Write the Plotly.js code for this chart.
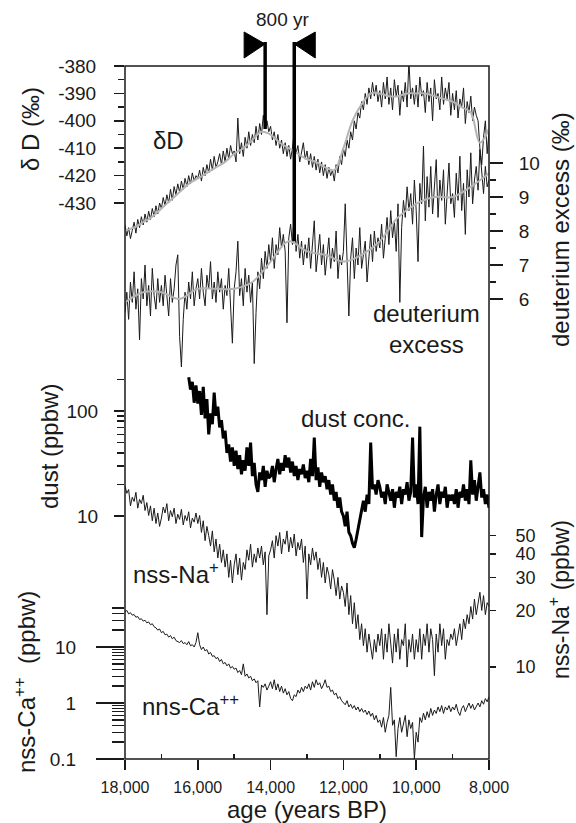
<!DOCTYPE html>
<html>
<head>
<meta charset="utf-8">
<script src="https://cdn.plot.ly/plotly-3.0.1.min.js"></script>
<style>html,body{margin:0;padding:0;background:#fff}#chart{width:576px;height:823px}</style>
</head>
<body>
<div id="chart"></div>
<script>
// ---------------- DATA ----------------
// sampling grid: ages in years BP, 50-yr step, oldest first
const AGE_STEP = 50;
const deltaDStart = 18000;   // first age of dD, deut. excess, Na, Ca series
const dustStart = 16250;     // first age of dust series

// dD (permil), 18000 -> 8000 BP
const deltaD = [
  -438,-442,-439,-443,-440,-437,-441,-436,-439,-435,-438,-434,-437,-433,-436,-432,-435,-431,-434,-430,
  -432,-428,-431,-427,-430,-425,-429,-424,-427,-423,-426,-422,-425,-421,-424,-420,-423,-419,-422,-420,
  -421,-418,-422,-417,-420,-416,-419,-414,-418,-413,-417,-415,-412,-416,-411,-415,-410,-414,-409,-412,
  -411,-415,-399,-412,-408,-413,-406,-410,-404,-409,-405,-408,-402,-407,-401,-405,-398,-403,-400,-404,
  -402,-407,-404,-409,-405,-410,-407,-412,-408,-413,-409,-414,-410,-404,-412,-409,-415,-411,-408,-414,
  -411,-416,-412,-417,-413,-418,-414,-419,-415,-420,-416,-421,-417,-420,-418,-422,-416,-419,-413,-416,
  -410,-413,-407,-410,-404,-407,-400,-403,-397,-399,-393,-396,-390,-394,-388,-392,-386,-391,-387,-393,
  -389,-395,-386,-392,-384,-394,-388,-396,-385,-391,-387,-398,-389,-393,-386,-395,-378,-392,-388,-394,
  -387,-395,-384,-391,-389,-397,-386,-393,-388,-400,-385,-392,-390,-396,-384,-394,-388,-392,-386,-398,
  -390,-396,-389,-399,-392,-395,-388,-401,-393,-397,-391,-400,-395,-398,-400,-410,-416,-406,-400,-412,-404
];
// smoothed dD (grey curve), 250-yr step
const deltaDSmoothAge = [18000,17750,17500,17250,17000,16750,16500,16250,16000,15750,15500,15250,15000,14750,14500,14250,14000,13750,13500,13250,13000,12750,12500,12250,12000,11750,11500,11250,11000,10750,10500,10250,10000,9750,9500,9250,9000,8750,8500,8250,8000];
const deltaDSmooth = [-440,-439,-437,-435,-432,-429,-426,-423,-421,-419,-417,-415,-412,-410,-407,-404,-405,-408,-410,-412,-414,-415,-417,-418,-410,-400,-394,-390,-390,-391,-391,-390,-390,-390,-391,-392,-393,-395,-397,-408,-403];

// deuterium excess (permil), 18000 -> 8000 BP
const deutExcess = [
  5.6,6.2,5.4,6.5,5.9,6.8,5.7,6.3,4.8,6.6,6.0,7.0,5.8,6.4,5.5,6.9,6.1,5.7,6.6,5.9,
  6.4,5.8,6.7,6.0,5.5,6.6,5.9,6.3,7.0,7.3,4.9,4.0,5.4,6.2,5.7,6.5,6.0,6.8,5.8,6.3,
  6.6,6.0,6.9,6.2,5.8,6.7,6.3,7.1,6.0,6.5,5.9,6.8,6.2,6.6,5.7,6.4,6.1,6.9,5.6,4.7,
  6.3,6.8,7.7,6.1,6.6,5.8,6.9,6.2,6.7,5.9,6.5,4.1,5.6,6.8,6.3,7.2,6.6,7.4,6.9,7.6,
  7.1,7.8,6.9,7.6,7.3,8.1,7.5,7.9,7.4,5.3,7.8,8.2,7.6,8.5,7.4,7.9,7.2,7.7,7.0,7.6,
  7.2,7.8,6.9,7.5,8.3,6.8,7.4,7.9,7.0,7.6,6.7,7.3,7.8,6.9,7.5,7.1,8.0,6.6,7.3,7.0,
  7.4,8.8,6.8,5.5,7.2,7.8,6.6,7.5,7.0,8.1,6.9,7.4,7.7,6.5,7.3,7.9,7.1,8.0,7.4,7.8,
  7.5,8.2,7.2,7.9,8.4,7.6,8.6,7.8,8.3,7.4,8.8,5.9,8.1,8.9,8.4,9.3,8.6,9.1,8.2,9.5,
  8.6,7.1,9.4,8.8,10.5,8.3,9.6,8.7,9.9,8.5,9.2,10.1,8.4,9.5,8.9,9.8,8.2,9.3,10.0,8.8,
  9.1,8.4,9.7,8.9,10.2,8.6,9.4,7.9,9.8,9.0,10.3,8.8,9.5,9.9,9.2,10.4,9.6,9.1,9.9,9.3,9.5
];
// smoothed deuterium excess (grey curve), 500-yr step
const deutSmoothAge = [18000,17500,17000,16500,16000,15500,15000,14500,14000,13500,13000,12500,12000,11500,11000,10500,10000,9500,9000,8500,8000];
const deutSmooth = [5.9,6.2,6.2,6.0,6.3,6.3,6.3,6.5,7.1,7.7,7.4,7.3,7.1,7.3,7.7,8.4,8.8,9.0,9.0,9.3,9.7];

// dust concentration (ppbw), 16250 -> 8000 BP
const dust = [
  210,160,190,120,175,
  118,155,92,170,85,130,60,95,75,150,90,110,70,82,55,65,40,48,33,45,
  30,42,28,38,25,34,27,45,30,50,24,32,20,17,26,22,30,19,27,23,
  24,30,21,28,35,25,32,27,38,29,36,26,33,24,30,22,28,25,31,23,
  27,21,35,24,56,22,29,19,26,21,24,18,22,16,20,14,17,12,15,11,
  10,8,11,7,6.5,5.5,5,6,7.5,9,12,14,11,16,13,50,18,20,16,22,
  19,15,17,13,20,16,14,18,12,17,15,19,13,18,16,21,14,17,56,15,
  20,13,71,6.3,15,19,12,17,14,18,11,16,20,13,17,15,19,12,16,14,
  16,13,18,12,17,15,20,14,18,13,34,16,22,14,19,26,15,18,13,16,12
];

// nss-Na+ (ppbw), 18000 -> 8000 BP
const nssNa = [
  92,84,88,72,80,76,85,70,78,74,82,68,75,64,72,60,70,58,66,56,
  62,71,66,74,60,68,63,70,58,65,61,69,57,64,60,67,55,62,59,66,
  58,64,52,60,47,56,50,44,53,41,48,38,45,36,42,34,40,30,37,28,
  35,40,31,38,29,36,33,42,37,45,34,40,36,43,38,44,35,41,19,39,
  42,47,38,50,44,52,40,48,45,53,41,49,43,51,39,46,42,48,36,44,
  23,40,35,43,37,41,33,38,30,36,28,34,31,26,33,29,24,30,23,27,
  25,21,28,19,24,17,22,16,19,14,17,13,16,12,15,13,11,14,12,15,
  13,16,11,15,12,17,13,10.5,15,12,16,11,14,13,17,10,14,12,15,11,
  14,12,16,11,15,13,17,12,16,14,9,15,12,17,13,16,11,14,13,15,
  14,16,13,15,17,14,18,16,19,17,21,18,23,19,22,25,20,24,19,22,21
];

// nss-Ca++ (ppbw), 18000 -> 8000 BP
const nssCa = [
  42,45,39,41,37,38,34,35,31,32,29,30,27,28,25,26,23,22,20,21,
  18,19,16.5,17,15,16,14,15,13,12.5,12,13,11.5,12,11,12.5,10.5,11,10,12,
  18,11,9,10,8.5,9,7.5,8,6.8,7,6.2,6.5,5.5,6,5,5.3,4.6,5,4.2,4.5,
  4,4.2,3.5,3.8,3.2,5,3,3.3,2.8,3,2.5,2.7,2.3,2.5,0.85,2.1,1.9,2.2,1.7,2,
  2.4,1.8,2.6,1.7,2.2,1.6,2,1.5,1.8,1.4,1.6,1.2,1.1,1.4,1.3,1.7,1.5,1.9,1.6,2,
  1.8,2.2,1.7,2.4,1.9,2.6,2.1,2.3,1.8,2.1,2.6,1.9,2,1.6,1.7,1.4,1.5,1.2,1.3,1.1,
  1,0.93,1.1,0.85,0.95,0.8,0.9,0.75,0.85,0.7,0.8,0.68,0.75,0.62,0.72,0.58,0.66,0.5,0.6,0.45,
  0.5,0.37,0.55,0.3,0.45,0.6,1.9,0.4,0.5,0.11,0.35,0.55,0.3,0.44,0.6,0.25,0.5,0.35,0.45,0.1,
  0.3,0.2,0.55,0.45,0.66,0.5,0.7,0.55,0.8,0.6,0.75,0.65,0.85,0.7,0.9,0.65,0.85,0.75,0.9,0.7,
  0.85,0.75,0.95,0.7,0.6,0.8,0.9,0.7,0.85,1,0.8,0.95,0.75,0.9,1,0.85,1.1,0.95,1.2,1.05,1.3
];

// tick values / labels
const xTicks = [18000,16000,14000,12000,10000,8000];
const xMinorTicks = [17000,15000,13000,11000,9000];
const dDTicks = [-380,-390,-400,-410,-420,-430];
const dDMinorTicks = [-385,-395,-405,-415,-425];
const dexTicks = [6,7,8,9,10];
const dexMinorTicks = [6.5,7.5,8.5,9.5];
const dustTicks = [10,100];
const dustMinorTicks = [20,30,40,50,60,70,80,90,200];
const naTicks = [10,20,30,40,50];
const naLongTicks = [10,50];
const caTicks = [0.1,1,10];
const caMinorTicks = [0.2,0.3,0.4,0.5,0.6,0.7,0.8,0.9,2,3,4,5,6,7,8,9,20,30,40,50];

// the "800 yr" lead markers
const leadAges = [14150, 13350];
const leadFeet = [{axis:'yaxis', value:-403}, {axis:'yaxis2', value:7.7}];

// ---------------- DRAWING ----------------
const ages = (start, n) => Array.from({length:n}, (_, i) => start - i*AGE_STEP);
const FONT = 'Liberation Sans, Arial, Helvetica, sans-serif';
const INK = '#1a1a1a';
const GREY = '#b4b4b4';

// plot box in pixels
const BOX = {l:125, r:489, t:66, b:759};
const px = (x) => (x - BOX.l)/(BOX.r - BOX.l);
const py = (y) => (BOX.b - y)/(BOX.b - BOX.t);

const traces = [
  {x: ages(deltaDStart, deltaD.length), y: deltaD, yaxis:'y', type:'scatter', mode:'lines', line:{color:INK, width:1}},
  {x: deltaDSmoothAge, y: deltaDSmooth, yaxis:'y', type:'scatter', mode:'lines', line:{color:GREY, width:2, shape:'spline'}},
  {x: ages(deltaDStart, deutExcess.length), y: deutExcess, yaxis:'y2', type:'scatter', mode:'lines', line:{color:INK, width:1}},
  {x: deutSmoothAge, y: deutSmooth, yaxis:'y2', type:'scatter', mode:'lines', line:{color:GREY, width:2, shape:'spline'}},
  {x: ages(dustStart, dust.length), y: dust, yaxis:'y3', type:'scatter', mode:'lines', line:{color:'#000', width:3}},
  {x: ages(deltaDStart, nssNa.length), y: nssNa, yaxis:'y4', type:'scatter', mode:'lines', line:{color:INK, width:1}},
  {x: ages(deltaDStart, nssCa.length), y: nssCa, yaxis:'y5', type:'scatter', mode:'lines', line:{color:INK, width:1}}
];

const tf = {family:FONT, size:19, color:INK};
const baseY = {showgrid:false, zeroline:false, showline:false, ticks:'outside', tickcolor:INK, tickwidth:1.5,
               tickfont:tf, fixedrange:true, tickmode:'array'};
const minorY = (vals, len) => ({tickmode:'array', tickvals:vals, ticks:'outside', ticklen:len, tickwidth:1.5, tickcolor:INK, showgrid:false});

const layout = {
  width:576, height:823,
  margin:{l:BOX.l, r:576-BOX.r, t:BOX.t, b:823-BOX.b, pad:0},
  paper_bgcolor:'#fff', plot_bgcolor:'#fff', showlegend:false,
  font:{family:FONT, color:INK},
  xaxis:{range:[18000,8000], tickmode:'array', tickvals:xTicks, tickformat:',d', ticks:'outside', ticklen:10,
         tickwidth:1.5, tickcolor:INK, tickfont:{family:FONT, size:16, color:INK}, showgrid:false, zeroline:false,
         showline:false, fixedrange:true, ticklabelstandoff:4,
         minor:{tickmode:'array', tickvals:xMinorTicks, ticks:'inside', ticklen:5, tickwidth:1.5, tickcolor:INK, showgrid:false},
         title:{text:'age (years BP)', font:{family:FONT, size:24, color:INK}, standoff:2}},
  yaxis:Object.assign({}, baseY, {range:[-632.9,-380], tickvals:dDTicks, ticktext:dDTicks.map(String), ticklen:10,
         ticklabelstandoff:14, minor:minorY(dDMinorTicks, 6)}),
  yaxis2:Object.assign({}, baseY, {overlaying:'y', side:'right', range:[-7.53,12.853], tickvals:dexTicks, ticklen:13,
         ticklabelstandoff:12, minor:minorY(dexMinorTicks, 6)}),
  yaxis3:Object.assign({}, baseY, {overlaying:'y', side:'left', type:'log', range:[-1.314,5.286], tickvals:dustTicks,
         ticktext:dustTicks.map(String), ticklen:10, ticklabelstandoff:12, minor:minorY(dustMinorTicks, 7)}),
  yaxis4:Object.assign({}, baseY, {overlaying:'y', side:'right', type:'log', range:[0.511,4.197], tickvals:naTicks,
         ticktext:naTicks.map(String), ticklen:6, ticklabelstandoff:16, tickfont:{family:FONT, size:18, color:INK}}),
  yaxis6:Object.assign({}, baseY, {overlaying:'y', side:'right', type:'log', range:[0.511,4.197], tickvals:naLongTicks,
         showticklabels:false, ticklen:13}),
  yaxis5:Object.assign({}, baseY, {overlaying:'y', side:'left', type:'log', range:[-1,11.375], tickvals:caTicks,
         ticktext:['0.1','1','10'], ticklen:28, ticklabelstandoff:16, minor:minorY(caMinorTicks, 12)}),
  shapes:[], annotations:[]
};

// frame
layout.shapes.push({type:'rect', xref:'paper', yref:'paper', x0:0, x1:1, y0:0, y1:1, line:{color:INK, width:1.5}, layer:'above'});

// 800 yr lead markers
const LEAD_TOP = py(42);
const FLAG_Y = py(45);
leadAges.forEach((age, i) => {
  const ax = layout[leadFeet[i].axis];
  const r = ax.range;
  const foot = (leadFeet[i].value - r[0])/(r[1]-r[0]);
  layout.shapes.push({type:'line', xref:'x', yref:'paper', x0:age, x1:age, y0:foot, y1:LEAD_TOP,
                      line:{color:'#000', width:3.5}, layer:'above'});
  const dir = i === 0 ? -1 : 1;
  layout.shapes.push({type:'path', xref:'x', yref:'paper', xsizemode:'pixel', ysizemode:'pixel',
                      xanchor:age, yanchor:FLAG_Y,
                      path:`M ${dir*21},13 L ${dir*21},-13 L 0,1 Z`,
                      fillcolor:'#000', line:{color:'#000', width:1}, layer:'above'});
});

// text labels (pixel positions converted to paper)
const labels = [
  {text:'δ D (‰)', x:30, y:129, size:24, angle:-90},
  {text:'dust (ppbw)', x:50, y:447, size:24, angle:-90},
  {text:'nss-Ca<sup>++</sup>  (ppbw)', x:25, y:682, size:24, angle:-90},
  {text:'deuterium excess (‰)', x:560, y:230, size:24, angle:-90},
  {text:'nss-Na<sup>+</sup> (ppbw)', x:559, y:600, size:23, angle:-90},
  {text:'δD', x:168, y:140, size:24},
  {text:'deuterium<br>excess', x:426, y:329, size:24},
  {text:'dust conc.', x:355, y:418, size:24},
  {text:'nss-Na<sup>+</sup>', x:131, y:573, size:24, anchor:'left'},
  {text:'nns-Ca<sup>++</sup>', x:140, y:705, size:24, anchor:'left'},
  {text:'800 yr', x:282, y:20, size:19}
];
labels.forEach(l => layout.annotations.push({
  text:l.text, xref:'paper', yref:'paper', x:px(l.x), y:py(l.y), showarrow:false,
  xanchor:l.anchor || 'center', yanchor:'middle', textangle:l.angle || 0,
  font:{family:FONT, size:l.size, color:INK}
}));

Plotly.newPlot('chart', traces, layout, {displayModeBar:false, staticPlot:true});
</script>
</body>
</html>
